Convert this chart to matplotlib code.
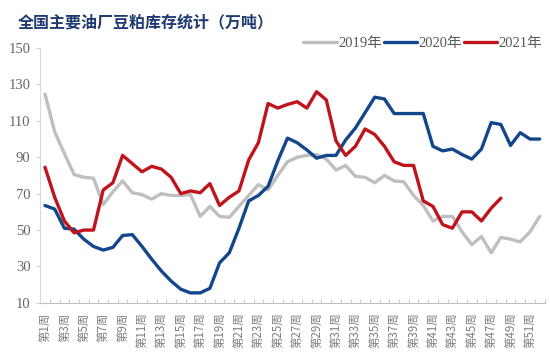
import matplotlib
matplotlib.use('Agg')
import matplotlib.pyplot as plt
import numpy as np

# Data ---------------------------------------------------------------------------------------------------------------
weeks      = list(range(1, 53))
ticklabels = ['第{}周'.format(w) for w in range(1, 53, 2)]
yticks     = [10, 30, 50, 70, 90, 110, 130, 150]

y2019 = [124.7, 104, 92, 80.5, 79, 78.5, 64, 71, 77, 70.5,
         69.5, 67, 70, 69, 69, 69.5, 57.5, 63, 57.5, 57,
         63, 69, 75, 72, 80, 87.5, 90, 91, 91.5, 89,
         83, 85.5, 79.5, 79, 76, 80, 77, 76.5, 69, 63.5,
         55, 57.5, 57.5, 49, 42, 46.5, 37.5, 46, 45, 43.5,
         49, 57.5]
y2020 = [63.5, 61.5, 51, 50.5, 45, 41, 39, 40.5, 47, 47.5,
         41, 34, 27.5, 22, 17.5, 15.5, 15.5, 18, 32, 37.5,
         51, 66, 69, 74, 88, 100.5, 98, 94, 89.5, 91,
         91, 99.5, 106, 114.5, 123, 122, 114, 114, 114, 114,
         96, 93.5, 94.5, 91.5, 89, 94.5, 109, 108, 96.5, 103.5,
         100, 100]
y2021 = [84.5, 68, 55, 48.5, 50, 50, 72, 76, 91, 86.5,
         82, 85, 83.5, 79, 70, 71.5, 70.5, 75.5, 63.5, 68,
         71.5, 88.5, 98, 119.5, 117, 119, 120.5, 117, 126, 121.5,
         99, 91, 96, 105.5, 102.5, 96, 87.5, 85.5, 85.5, 66,
         63, 53, 51, 60, 60, 55, 62, 67.5]

series = [('2019年', y2019, '#BFBFBF'),
          ('2020年', y2020, '#14468C'),
          ('2021年', y2021, '#C0141C')]

# Plot ---------------------------------------------------------------------------------------------------------------
fig = plt.figure(figsize=(5.5, 3.61), dpi=100)
ax = fig.add_axes([0.073, 0.161, 0.917, 0.706])

for name, vals, col in series:
    ax.plot(weeks[:len(vals)], vals, color=col, lw=2.4, label=name, solid_capstyle='round')

ax.set_xlim(0.5, 52.5)
ax.set_ylim(10, 150)
ax.set_yticks(yticks)
ax.set_yticklabels([str(v) for v in yticks], family='Liberation Serif', fontsize=10.5, color='#666666')
ax.set_xticks(range(1, 53, 2))
ax.set_xticklabels(ticklabels, rotation=90, family=['Noto Sans CJK SC', 'DejaVu Sans'],
                   fontsize=8.3, color='#7F7F7F')
ax.set_xticks(np.arange(0.5, 53, 1), minor=True)
ax.tick_params(axis='x', which='major', length=0, pad=7)
ax.tick_params(axis='x', which='minor', direction='in', length=3, color='#BFBFBF')
ax.tick_params(axis='y', length=3, color='#D0D0D0', pad=4)

for s in ['top', 'right']:
    ax.spines[s].set_visible(False)
ax.spines['left'].set_color('#D9D9D9')
ax.spines['bottom'].set_color('#BFBFBF')

fig.text(0.032, 0.937, '全国主要油厂豆粕库存统计（万吨）', family=['Noto Sans CJK SC', 'DejaVu Sans'],
         fontsize=11.5, fontweight='bold', color='#1F3A70', va='center')

fig.legend(loc='center right', bbox_to_anchor=(0.997, 0.88), ncol=3, frameon=False,
           handlelength=2.3, handletextpad=0.1, columnspacing=0.1, borderaxespad=0,
           prop={'family': ['Liberation Serif', 'Noto Sans CJK SC'], 'size': 10.5},
           labelcolor='#595959')

plt.savefig('out.png', dpi=100)
